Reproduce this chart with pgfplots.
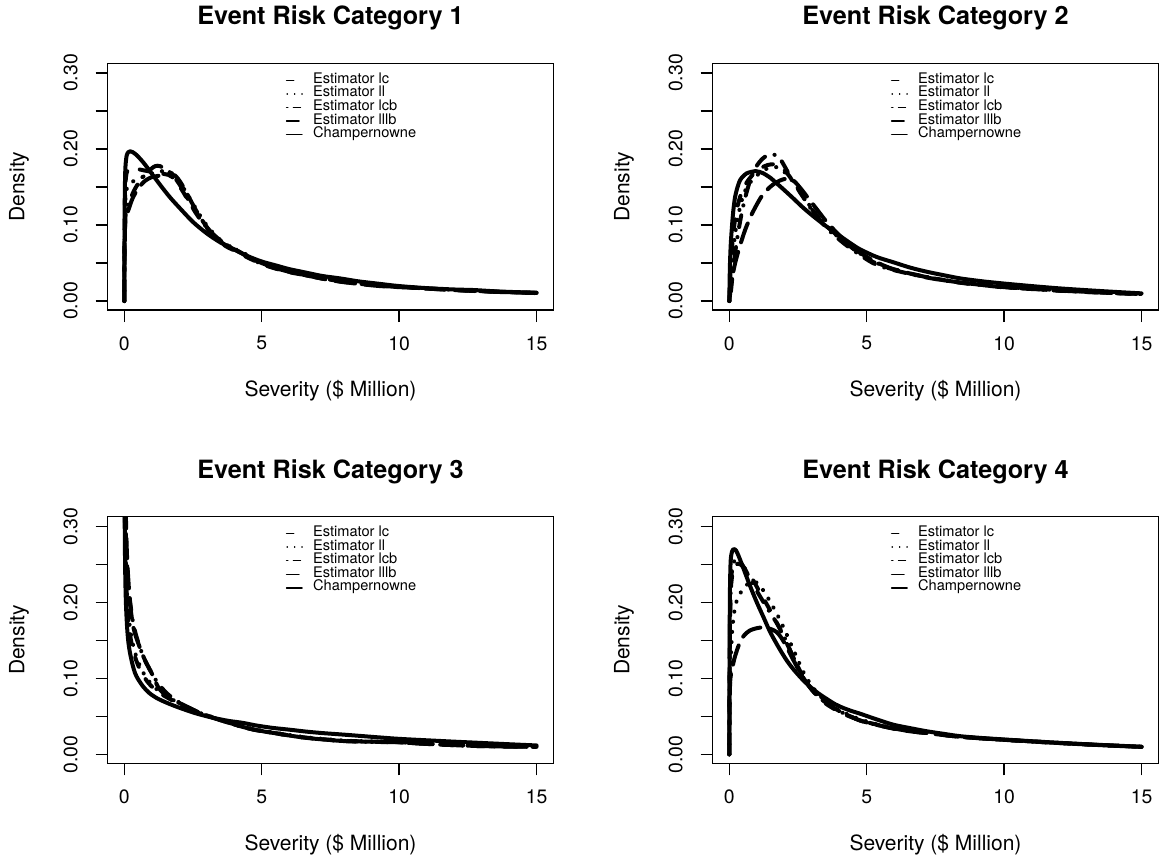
\documentclass[border=0pt]{standalone}
\usepackage{fontspec}
\setmainfont{TeX Gyre Heros}
\usepackage{pgfplots}
\pgfplotsset{compat=1.18}

% line styles as in R: lty 2,3,4,5,1
\pgfplotsset{
  lc/.style={black, line width=2pt, line cap=round, dash pattern=on 5pt off 7pt, smooth, tension=0.5,
    legend image code/.code={\draw[black, line width=0.6pt, dash pattern=on 3.6pt off 4.6pt] (0pt,0pt) -- (7.8pt,0pt); \path (12.3pt,0pt);}},
  ll/.style={black, line width=2pt, line cap=round, dash pattern=on 0.1pt off 5pt, smooth, tension=0.5,
    legend image code/.code={\draw[black, line width=0.7pt, line cap=round, dash pattern=on 0.1pt off 3.6pt] (0.3pt,0pt) -- (7.8pt,0pt); \path (12.3pt,0pt);}},
  lcb/.style={black, line width=2pt, line cap=round, dash pattern=on 0.1pt off 5pt on 6pt off 5pt, smooth, tension=0.5,
    legend image code/.code={\draw[black, line width=0.6pt, dash pattern=on 0.7pt off 2.7pt on 3.6pt off 2.7pt] (0pt,0pt) -- (7.8pt,0pt); \path (12.3pt,0pt);}},
  lllb/.style={black, line width=2pt, line cap=round, dash pattern=on 10pt off 5pt, smooth, tension=0.5,
    legend image code/.code={\draw[black, line width=0.6pt, dash pattern=on 6.3pt off 2.7pt] (0pt,0pt) -- (7.8pt,0pt); \path (12.3pt,0pt);}},
  champ/.style={black, line width=2pt, line cap=round, line join=round, smooth, tension=0.5,
    legend image code/.code={\draw[black, line width=0.6pt] (0pt,0pt) -- (7.8pt,0pt); \path (12.3pt,0pt);}},
  rpanel/.style={
    anchor=south west,
    scale only axis, width=222.8pt, height=123.35pt,
    xmin=-0.604, xmax=15.61, ymin=-0.0118, ymax=0.3128,
    axis line style={line width=0.65pt},
    tick align=outside, xtick pos=bottom, ytick pos=left,
    major tick length=6pt,
    every tick/.style={black, line width=0.65pt},
    xtick={0,5,10,15}, xticklabels={0,5,10,15},
    ytick={0,0.05,0.1,0.15,0.2,0.25,0.3},
    yticklabels={0.00,,0.10,,0.20,,0.30},
    /pgf/number format/assume math mode=true,
    ticklabel style={font=\fontsize{9.7}{11}\selectfont},
    xticklabel style={anchor=north, inner sep=0pt},
    xticklabel shift=7pt,
    yticklabel style={rotate=90, anchor=south, inner sep=0pt},
    yticklabel shift=8.8pt,
    xlabel={Severity (\$ Million)}, ylabel={Density},
    xlabel style={at={(axis description cs:0.5,-0.3514)}, anchor=base, inner sep=0pt, font=\fontsize{10.5}{12}\selectfont},
    ylabel style={at={(axis description cs:-0.187,0.5)}, anchor=base, inner sep=0pt, font=\fontsize{10.5}{12}\selectfont},
    every axis title shift=0pt,
    title style={at={(axis description cs:0.5,1.1553)}, anchor=base, inner sep=0pt, font=\fontsize{12.6}{14}\selectfont\bfseries},
    legend style={at={(0.4,0.959)}, anchor=north west, draw=none, fill=none,
      inner sep=0pt, outer sep=0pt, row sep=0pt, column sep=0pt,
      font=\fontsize{7.3}{7.3}\selectfont,
      nodes={inner sep=0pt, text height=4.9pt, text depth=1.9pt}},
    legend cell align=left,
  },
}

\begin{document}
\begin{tikzpicture}
\path[use as bounding box] (0pt,0pt) rectangle (579.5pt,429.5pt);

% ---------- Event Risk Category 1 ----------
\begin{axis}[rpanel, at={(53.85pt,274.5pt)}, title={Event Risk Category 1}]
\addplot[lc] coordinates {(0,0) (0.01,0.09) (0.03,0.14) (0.06,0.163) (0.12,0.172) (0.25,0.175) (0.45,0.174) (0.7,0.172) (1.0,0.170) (1.3,0.168) (1.6,0.166) (1.85,0.160) (2.1,0.146) (2.4,0.128) (2.7,0.112) (3.0,0.096) (3.3,0.083) (3.7,0.072) (4.1,0.065) (4.5,0.057) (5.0,0.049) (5.5,0.043) (6.0,0.038) (6.6,0.034) (7.2,0.0295) (7.85,0.0258) (8.5,0.023) (9.3,0.020) (10.4,0.0178) (11.5,0.0155) (12.5,0.0137) (13.5,0.0122) (14.3,0.0113) (15,0.0106)};
\addplot[ll] coordinates {(0,0) (0.01,0.08) (0.03,0.125) (0.07,0.145) (0.15,0.152) (0.3,0.157) (0.5,0.161) (0.8,0.165) (1.1,0.169) (1.4,0.171) (1.7,0.169) (1.95,0.160) (2.2,0.146) (2.5,0.128) (2.8,0.110) (3.1,0.095) (3.5,0.080) (3.9,0.070) (4.2,0.066) (4.6,0.058) (5.0,0.051) (5.5,0.0445) (6.0,0.0395) (6.6,0.035) (7.2,0.031) (7.85,0.027) (8.5,0.0238) (9.3,0.021) (10.4,0.018) (11.5,0.0158) (12.5,0.014) (13.5,0.0125) (14.3,0.0115) (15,0.0107)};
\addplot[lcb] coordinates {(0,0) (0.01,0.07) (0.04,0.11) (0.1,0.122) (0.2,0.132) (0.35,0.145) (0.55,0.157) (0.8,0.168) (1.05,0.176) (1.2,0.178) (1.4,0.176) (1.7,0.168) (2.0,0.154) (2.3,0.135) (2.6,0.116) (2.9,0.101) (3.2,0.089) (3.6,0.077) (4.0,0.069) (4.4,0.060) (4.8,0.052) (5.3,0.045) (5.8,0.040) (6.4,0.0355) (7.0,0.031) (7.8,0.0265) (8.5,0.0235) (9.3,0.0205) (10.4,0.0178) (11.5,0.0156) (12.5,0.0138) (13.5,0.0123) (14.3,0.0114) (15,0.0107)};
\addplot[lllb] coordinates {(0,0) (0.01,0.06) (0.03,0.10) (0.08,0.112) (0.17,0.122) (0.3,0.135) (0.5,0.148) (0.75,0.158) (1.0,0.163) (1.3,0.165) (1.6,0.167) (1.85,0.165) (2.05,0.156) (2.3,0.140) (2.6,0.120) (2.95,0.100) (3.3,0.085) (3.7,0.073) (4.1,0.066) (4.5,0.058) (5.0,0.050) (5.5,0.0435) (6.0,0.0385) (6.6,0.034) (7.2,0.0295) (7.85,0.0255) (8.5,0.0227) (9.3,0.0197) (10.4,0.0176) (11.5,0.0154) (12.5,0.0136) (13.5,0.0121) (14.3,0.0112) (15,0.0105)};
\addplot[champ] coordinates {(0,0) (0.005,0.06) (0.015,0.13) (0.03,0.165) (0.05,0.181) (0.09,0.192) (0.15,0.196) (0.22,0.197) (0.3,0.196) (0.45,0.192) (0.7,0.182) (0.95,0.170) (1.3,0.153) (1.65,0.137) (2.0,0.123) (2.5,0.104) (3.0,0.089) (3.5,0.077) (4.0,0.068) (4.5,0.059) (5.0,0.052) (5.5,0.047) (6.0,0.042) (6.6,0.0375) (7.2,0.033) (7.85,0.0298) (8.5,0.026) (9.2,0.023) (10,0.0197) (11,0.017) (12,0.0152) (12.7,0.0145) (13.5,0.0128) (14.2,0.0118) (15,0.011)};
\legend{Estimator lc, Estimator ll, Estimator lcb, Estimator lllb, Champernowne}
\end{axis}

% ---------- Event Risk Category 2 ----------
\begin{axis}[rpanel, at={(356.35pt,274.5pt)}, title={Event Risk Category 2}]
\addplot[lc] coordinates {(0,0) (0.02,0.02) (0.06,0.05) (0.12,0.08) (0.2,0.105) (0.3,0.125) (0.45,0.143) (0.65,0.157) (0.9,0.168) (1.15,0.175) (1.4,0.179) (1.65,0.180) (1.9,0.176) (2.15,0.166) (2.4,0.153) (2.7,0.137) (3.0,0.121) (3.3,0.108) (3.6,0.097) (3.9,0.087) (4.2,0.078) (4.5,0.069) (4.76,0.062) (5.2,0.052) (5.6,0.046) (5.97,0.0415) (6.6,0.036) (7.18,0.0315) (7.8,0.0275) (8.4,0.0243) (9.2,0.0212) (10,0.0185) (11,0.0162) (12,0.014) (13,0.0122) (14,0.0106) (15,0.0093)};
\addplot[ll] coordinates {(0,0) (0.04,0.005) (0.08,0.03) (0.13,0.06) (0.2,0.085) (0.3,0.108) (0.42,0.128) (0.55,0.143) (0.7,0.153) (0.9,0.162) (1.1,0.168) (1.3,0.173) (1.5,0.176) (1.75,0.176) (2.0,0.170) (2.25,0.160) (2.5,0.148) (2.8,0.132) (3.1,0.117) (3.4,0.104) (3.7,0.093) (4.0,0.083) (4.4,0.072) (4.76,0.0625) (5.2,0.053) (5.6,0.0465) (5.97,0.042) (6.6,0.0362) (7.18,0.0318) (7.8,0.0278) (8.4,0.0245) (9.2,0.0214) (10,0.0186) (11,0.0163) (12,0.0141) (13,0.0123) (14,0.0107) (15,0.0094)};
\addplot[lcb] coordinates {(0,0) (0.05,0.01) (0.12,0.035) (0.2,0.06) (0.3,0.085) (0.42,0.11) (0.55,0.132) (0.7,0.152) (0.85,0.167) (1.0,0.178) (1.2,0.187) (1.4,0.192) (1.55,0.193) (1.7,0.192) (1.85,0.187) (2.0,0.178) (2.2,0.165) (2.45,0.150) (2.7,0.136) (3.0,0.120) (3.3,0.106) (3.6,0.094) (3.9,0.084) (4.2,0.075) (4.5,0.067) (4.76,0.0605) (5.2,0.0505) (5.6,0.0445) (5.97,0.0408) (6.6,0.0355) (7.18,0.031) (7.8,0.0272) (8.4,0.0241) (9.2,0.021) (10,0.018) (11,0.0158) (12,0.0136) (13,0.0119) (14,0.0104) (15,0.0092)};
\addplot[lllb] coordinates {(0,0) (0.03,0.01) (0.1,0.03) (0.2,0.048) (0.3,0.062) (0.45,0.080) (0.6,0.096) (0.8,0.113) (1.0,0.127) (1.2,0.139) (1.45,0.149) (1.7,0.156) (1.95,0.160) (2.15,0.161) (2.35,0.158) (2.6,0.148) (2.9,0.134) (3.2,0.120) (3.5,0.106) (3.8,0.094) (4.1,0.083) (4.45,0.072) (4.76,0.0635) (5.2,0.054) (5.6,0.047) (5.97,0.042) (6.6,0.036) (7.18,0.0315) (7.8,0.0275) (8.4,0.0244) (9.2,0.0212) (10,0.0183) (11,0.016) (12,0.0138) (13,0.012) (14,0.0105) (15,0.0093)};
\addplot[champ] coordinates {(0,0) (0.01,0.025) (0.025,0.05) (0.05,0.073) (0.086,0.093) (0.14,0.117) (0.21,0.137) (0.3,0.150) (0.39,0.159) (0.5,0.164) (0.63,0.168) (0.8,0.170) (0.95,0.171) (1.1,0.170) (1.24,0.168) (1.5,0.162) (1.72,0.155) (2.0,0.146) (2.33,0.135) (2.65,0.124) (2.94,0.115) (3.25,0.106) (3.54,0.098) (3.85,0.090) (4.15,0.0825) (4.45,0.075) (4.76,0.068) (5.36,0.058) (5.97,0.051) (6.58,0.044) (7.18,0.0386) (7.8,0.034) (8.4,0.0298) (9.2,0.026) (10,0.023) (11,0.0197) (12,0.0167) (13,0.0143) (14,0.0121) (15,0.0101)};
\legend{Estimator lc, Estimator ll, Estimator lcb, Estimator lllb, Champernowne}
\end{axis}

% ---------- Event Risk Category 3 ----------
\begin{axis}[rpanel, at={(53.85pt,47.85pt)}, title={Event Risk Category 3}]
\addplot[lc] coordinates {(0.004,0.6) (0.015,0.36) (0.035,0.28) (0.07,0.225) (0.12,0.19) (0.2,0.16) (0.3,0.14) (0.45,0.122) (0.65,0.106) (0.9,0.093) (1.2,0.083) (1.5,0.076) (1.8,0.070) (2.2,0.062) (2.6,0.056) (3.0,0.051) (3.5,0.045) (4.2,0.0375) (4.8,0.032) (5.4,0.0285) (6.0,0.025) (6.6,0.022) (7.2,0.020) (7.85,0.018) (8.5,0.0172) (9.2,0.0166) (10,0.016) (11,0.0138) (12,0.0122) (12.7,0.0112) (13.5,0.0106) (14.2,0.0102) (15,0.0100)};
\addplot[ll] coordinates {(0.004,0.6) (0.015,0.37) (0.035,0.29) (0.07,0.235) (0.12,0.198) (0.2,0.168) (0.3,0.147) (0.45,0.127) (0.65,0.110) (0.9,0.096) (1.2,0.085) (1.5,0.078) (1.8,0.071) (2.2,0.063) (2.6,0.0565) (3.0,0.0515) (3.5,0.0455) (4.2,0.038) (4.8,0.0325) (5.4,0.029) (6.0,0.0255) (6.6,0.0225) (7.2,0.0205) (7.85,0.0185) (8.5,0.0175) (9.2,0.0168) (10,0.0162) (11,0.014) (12,0.0124) (12.7,0.0114) (13.5,0.0108) (14.2,0.0103) (15,0.0101)};
\addplot[lcb] coordinates {(0.006,0.6) (0.02,0.38) (0.05,0.30) (0.1,0.25) (0.17,0.215) (0.25,0.19) (0.35,0.168) (0.5,0.148) (0.7,0.128) (0.95,0.110) (1.2,0.095) (1.5,0.082) (1.8,0.073) (2.2,0.064) (2.6,0.057) (3.0,0.051) (3.5,0.045) (4.2,0.037) (4.8,0.0318) (5.4,0.0283) (6.0,0.0248) (6.6,0.0217) (7.2,0.0197) (7.85,0.0176) (8.5,0.0168) (9.2,0.0163) (10,0.0159) (11,0.0137) (12,0.0121) (12.7,0.0111) (13.5,0.0105) (14.2,0.0101) (15,0.0099)};
\addplot[lllb] coordinates {(0.01,0.6) (0.03,0.40) (0.06,0.31) (0.1,0.26) (0.15,0.228) (0.21,0.198) (0.33,0.167) (0.51,0.146) (0.75,0.124) (1.0,0.1065) (1.24,0.088) (1.5,0.078) (1.8,0.071) (2.1,0.066) (2.6,0.057) (3.0,0.051) (3.5,0.045) (4.2,0.0372) (4.8,0.0318) (5.4,0.0283) (6.0,0.0248) (6.6,0.0218) (7.2,0.0198) (7.85,0.0178) (8.5,0.017) (9.2,0.0164) (10,0.0159) (11,0.0137) (12,0.0121) (12.7,0.0111) (13.5,0.0105) (14.2,0.0101) (15,0.0099)};
\addplot[champ] coordinates {(0.001,0.6) (0.005,0.40) (0.012,0.32) (0.025,0.263) (0.04,0.225) (0.06,0.198) (0.085,0.178) (0.11,0.163) (0.15,0.147) (0.21,0.133) (0.3,0.118) (0.39,0.107) (0.5,0.099) (0.69,0.089) (0.9,0.081) (1.18,0.074) (1.6,0.067) (2.03,0.061) (2.6,0.054) (3.24,0.048) (3.8,0.044) (4.3,0.0415) (4.8,0.038) (5.4,0.0348) (6.0,0.0325) (6.6,0.030) (7.2,0.028) (7.85,0.0263) (8.5,0.0245) (9.2,0.0225) (10,0.0204) (11,0.0185) (12,0.0167) (13,0.015) (14,0.0133) (15,0.0117)};
\legend{Estimator lc, Estimator ll, Estimator lcb, Estimator lllb, Champernowne}
\end{axis}

% ---------- Event Risk Category 4 ----------
\begin{axis}[rpanel, at={(356.35pt,47.85pt)}, title={Event Risk Category 4}]
\addplot[lc] coordinates {(0,0) (0.01,0.12) (0.03,0.19) (0.07,0.225) (0.15,0.243) (0.25,0.25) (0.4,0.25) (0.6,0.243) (0.85,0.23) (1.1,0.214) (1.4,0.195) (1.7,0.175) (2.0,0.153) (2.3,0.13) (2.6,0.108) (2.9,0.09) (3.2,0.077) (3.5,0.067) (3.9,0.058) (4.3,0.051) (4.76,0.045) (5.12,0.0413) (5.6,0.037) (6.0,0.034) (6.58,0.0304) (7.18,0.0282) (7.8,0.0255) (8.4,0.0232) (9.2,0.021) (10,0.0192) (11,0.017) (12,0.015) (13,0.0131) (14,0.0114) (15,0.0099)};
\addplot[ll] coordinates {(0,0) (0.02,0.07) (0.05,0.12) (0.1,0.16) (0.17,0.185) (0.25,0.20) (0.4,0.212) (0.6,0.222) (0.8,0.227) (1.0,0.226) (1.25,0.215) (1.5,0.20) (1.8,0.18) (2.1,0.157) (2.4,0.132) (2.7,0.108) (3.0,0.09) (3.3,0.077) (3.6,0.067) (4.0,0.058) (4.4,0.051) (4.76,0.046) (5.12,0.042) (5.6,0.0375) (6.0,0.0343) (6.58,0.0306) (7.18,0.0283) (7.8,0.0256) (8.4,0.0233) (9.2,0.0211) (10,0.0193) (11,0.0171) (12,0.0151) (13,0.0132) (14,0.0115) (15,0.0099)};
\addplot[lcb] coordinates {(0,0) (0.01,0.10) (0.03,0.18) (0.06,0.225) (0.12,0.248) (0.22,0.256) (0.35,0.255) (0.55,0.245) (0.8,0.228) (1.0,0.215) (1.3,0.197) (1.6,0.18) (1.9,0.162) (2.2,0.138) (2.45,0.118) (2.7,0.10) (3.0,0.086) (3.3,0.075) (3.6,0.066) (4.0,0.057) (4.4,0.05) (4.76,0.0445) (5.12,0.041) (5.6,0.0368) (6.0,0.0338) (6.58,0.0303) (7.18,0.0281) (7.8,0.0254) (8.4,0.0231) (9.2,0.0209) (10,0.0191) (11,0.0169) (12,0.0149) (13,0.013) (14,0.0113) (15,0.0098)};
\addplot[lllb] coordinates {(0,0) (0.01,0.05) (0.03,0.095) (0.09,0.11) (0.2,0.128) (0.39,0.148) (0.55,0.157) (0.75,0.163) (1.0,0.166) (1.24,0.167) (1.5,0.165) (1.72,0.161) (1.9,0.153) (2.09,0.141) (2.39,0.12) (2.7,0.10) (3.0,0.085) (3.3,0.074) (3.6,0.066) (4.0,0.057) (4.4,0.05) (4.76,0.0445) (5.12,0.041) (5.6,0.0368) (6.0,0.0338) (6.58,0.0303) (7.18,0.0281) (7.8,0.0254) (8.4,0.0231) (9.2,0.0209) (10,0.0191) (11,0.0169) (12,0.0149) (13,0.013) (14,0.0113) (15,0.0098)};
\addplot[champ] coordinates {(0,0) (0.005,0.08) (0.012,0.16) (0.025,0.22) (0.05,0.255) (0.1,0.267) (0.17,0.27) (0.25,0.268) (0.35,0.26) (0.51,0.245) (0.75,0.222) (1.0,0.20) (1.25,0.18) (1.5,0.16) (1.84,0.138) (2.1,0.123) (2.33,0.112) (2.65,0.099) (2.94,0.089) (3.25,0.080) (3.54,0.073) (3.85,0.066) (4.15,0.061) (4.45,0.057) (4.76,0.0535) (5.36,0.046) (5.97,0.039) (6.58,0.0345) (7.18,0.0304) (7.8,0.027) (8.4,0.0239) (9.2,0.0215) (10,0.0196) (11,0.0173) (12,0.0152) (13,0.0133) (14,0.0116) (15,0.0100)};
\legend{Estimator lc, Estimator ll, Estimator lcb, Estimator lllb, Champernowne}
\end{axis}
\end{tikzpicture}
\end{document}
